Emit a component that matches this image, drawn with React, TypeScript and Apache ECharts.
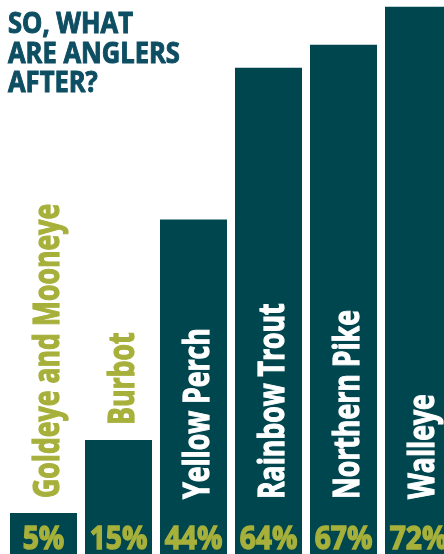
import React, { useEffect, useRef } from "react";
import * as echarts from "echarts";

const categories = ["Goldeye and Mooneye", "Burbot", "Yellow Perch", "Rainbow Trout", "Northern Pike", "Walleye"];
const values = [5, 15, 44, 64, 67, 72];
const titleLines = ["SO, WHAT", "ARE ANGLERS", "AFTER?"];

const TEAL = "#00464f";
const TITLE = "#0d4e63";
const OLIVE = "#a6b03a";
const FAMILY = "'Open Sans', 'DejaVu Sans', sans-serif";

function measure(text: string, font: string): number {
  const ctx = document.createElement("canvas").getContext("2d");
  if (!ctx) return text.length * 10;
  ctx.font = font;
  return ctx.measureText(text).width;
}

export default function App() {
  const ref = useRef<HTMLDivElement>(null);
  useEffect(() => {
    if (!ref.current) return;
    const chart = echarts.init(ref.current, undefined, { renderer: "svg" });

    const NAME_SIZE = 35;
    const PCT_SIZE = 32;
    const TITLE_SIZE = 29;
    const nameFont = `bold ${NAME_SIZE}px ${FAMILY}`;
    const pctFont = `bold ${PCT_SIZE}px ${FAMILY}`;
    const titleFont = `bold ${TITLE_SIZE}px ${FAMILY}`;

    // horizontal condensing to mimic a condensed face
    const nameScale =
      (170 + 197 + 188 + 105) /
      ["Yellow Perch", "Rainbow Trout", "Northern Pike", "Walleye"].reduce((s, t) => s + measure(t, nameFont), 0);
    const pctScale = (59 + 59 + 56 + 57) / ["15%", "44%", "64%", "67%"].reduce((s, t) => s + measure(t, pctFont), 0);
    const titleScale = (120 + 175 + 92) / titleLines.reduce((s, t) => s + measure(t, titleFont), 0);

    const titleY = [22, 52, 80.5];

    chart.setOption({
      animation: false,
      graphic: titleLines.map((t, i) => ({
        type: "text",
        x: 8,
        y: titleY[i],
        scaleX: titleScale,
        style: {
          text: t,
          font: titleFont,
          fill: TITLE,
          stroke: TITLE,
          lineWidth: 1,
          verticalAlign: "middle",
          align: "left",
        },
      })),
      grid: { left: 6, right: 0, top: 0, bottom: 0, containLabel: false },
      xAxis: { type: "category", data: categories, show: false },
      yAxis: { type: "value", min: 0, max: 72.9, show: false },
      series: [
        {
          type: "bar",
          data: values,
          barCategoryGap: "10.667%",
          barMinHeight: 41,
          itemStyle: { color: TEAL },
          silent: true,
        },
        {
          type: "custom",
          data: values.map((v, i) => [i, v]),
          silent: true,
          z: 5,
          renderItem: (params: any, api: any) => {
            const idx = api.value(0);
            const v = api.value(1);
            const top = api.coord([idx, v]);
            const base = api.coord([idx, 0]);
            const cx = base[0];
            const barTop = Math.min(top[1], base[1] - 41);
            const inside = v >= 20;
            const nameY = inside ? 499 : barTop - 15;
            const nameColor = inside ? "#ffffff" : OLIVE;
            return {
              type: "group",
              children: [
                {
                  type: "text",
                  x: cx,
                  y: base[1] - 17,
                  scaleX: pctScale,
                  style: {
                    text: v + "%",
                    font: pctFont,
                    fill: OLIVE,
                    stroke: OLIVE,
                    lineWidth: 1.4,
                    align: "center",
                    verticalAlign: "middle",
                  },
                },
                {
                  type: "text",
                  x: cx + 2,
                  y: nameY,
                  rotation: Math.PI / 2,
                  scaleX: nameScale,
                  style: {
                    text: categories[idx],
                    font: nameFont,
                    fill: nameColor,
                    stroke: nameColor,
                    lineWidth: 1.2,
                    align: "left",
                    verticalAlign: "middle",
                  },
                },
              ],
            };
          },
        },
      ],
    });
    return () => chart.dispose();
  }, []);
  return <div ref={ref} style={{ position: "fixed", left: 0, top: 0, width: 456, height: 554 }} />;
}
